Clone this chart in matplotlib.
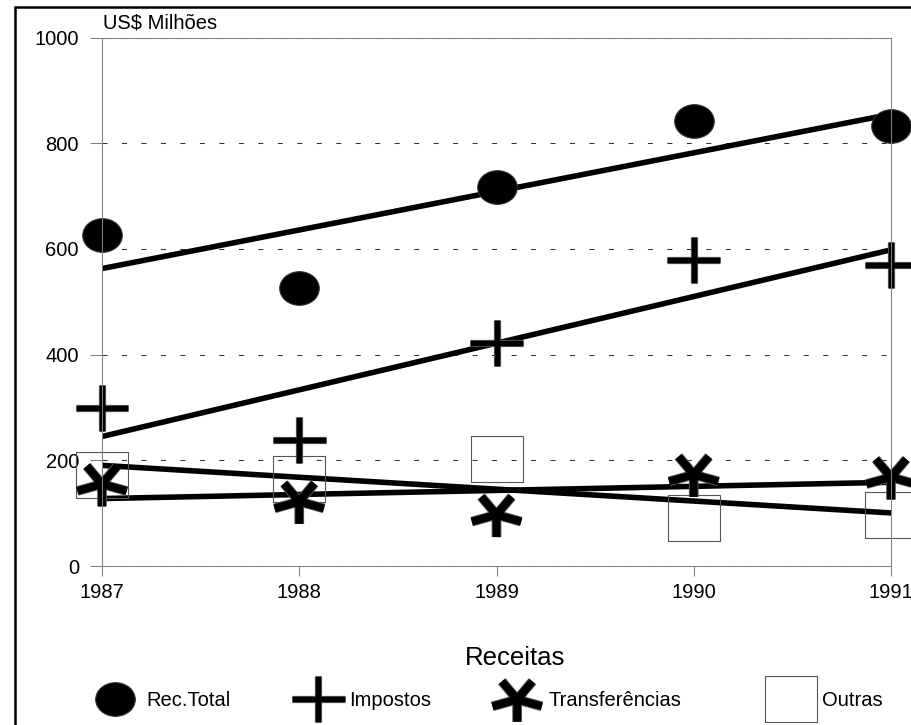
import matplotlib
matplotlib.use('Agg')
import matplotlib.pyplot as plt
import matplotlib.patheffects as pe
from matplotlib.path import Path
from matplotlib.transforms import Affine2D
from matplotlib.patches import Rectangle
import numpy as np

plt.rcParams['font.family'] = ['Liberation Sans', 'DejaVu Sans']

years = [1987, 1988, 1989, 1990, 1991]
rec_total = [626, 526, 717, 842, 833]
impostos = [299, 238, 422, 579, 570]
transferencias = [155, 122, 97, 173, 168]
outras = [172, 165, 203, 90, 97]
yticks = [0, 200, 400, 600, 800, 1000]

# marker shapes (Excel-like, slightly flattened)
ellipse = Path.unit_circle().transformed(Affine2D().scale(1, 0.85))
plus = Path([(-1, 0), (1, 0), (0, -0.87), (0, 0.87)],
            [Path.MOVETO, Path.LINETO, Path.MOVETO, Path.LINETO])
ast_verts, ast_codes = [], []
for a in [270, 342, 54, 126, 198]:
    r = np.deg2rad(a)
    ast_verts += [(0, 0), (np.cos(r), np.sin(r) * 0.86)]
    ast_codes += [Path.MOVETO, Path.LINETO]
asterisk = Path(ast_verts, ast_codes)
square = Path([(-1, -0.885), (1, -0.885), (1, 0.885), (-1, 0.885), (-1, -0.885)],
              [Path.MOVETO, Path.LINETO, Path.LINETO, Path.LINETO, Path.CLOSEPOLY])

W, H = 912, 725
fig = plt.figure(figsize=(W / 100, H / 100), dpi=100)
ax = fig.add_axes([102 / W, 1 - 566 / H, (891 - 102) / W, (566 - 37.5) / H])

# trend lines (linear fit of each series)
for vals in [rec_total, impostos, transferencias, outras]:
    coef = np.polyfit(years, vals, 1)
    ax.plot(years, np.polyval(coef, years), color='black', lw=4.0,
            solid_capstyle='round', zorder=2.0)

outline = lambda w: [pe.Stroke(linewidth=w, foreground='#555555'), pe.Normal()]

h_out, = ax.plot(years, outras, ls='none', marker=square, ms=37.4, mfc='none',
                 mec='#555555', mew=0.8, clip_on=False, zorder=2.1)
h_rec, = ax.plot(years, rec_total, ls='none', marker=ellipse, ms=28.5, mfc='black',
                 mec='#333333', mew=0.8, clip_on=False, zorder=2.2)
h_imp, = ax.plot(years, impostos, ls='none', marker=plus, ms=38, mfc='none',
                 mec='black', mew=3.8, clip_on=False, zorder=2.2,
                 path_effects=outline(5.2))
h_tra, = ax.plot(years, transferencias, ls='none', marker=asterisk, ms=35.6,
                 mfc='none', mec='black', mew=5.6, clip_on=False, zorder=2.2,
                 path_effects=outline(7.0))

ax.set_xlim(1987, 1991)
ax.set_ylim(0, 1000)
ax.set_xticks(years)
ax.set_yticks(yticks)
ax.tick_params(axis='y', direction='out', length=8.6, width=0.75, color='#808080',
               pad=8, labelsize=14.5)
ax.tick_params(axis='x', direction='out', length=7, width=0.75, color='#808080',
               pad=5, labelsize=14.5)
for s in ax.spines.values():
    s.set_color('#808080')
    s.set_linewidth(0.75)
ax.yaxis.grid(True, color='#333333', lw=0.75, linestyle=(0, (4.8, 13.9)))
ax.set_axisbelow(True)

fig.text(103 / W, 1 - 28 / H, 'US$ Milhões', fontsize=14.5, va='baseline', ha='left')

# legend
fig.text(515 / W, 1 - 658 / H, 'Receitas', fontsize=18.5, ha='center', va='center')
leg_handles = [h_rec, h_imp, h_tra, h_out]
leg_labels = ['Rec.Total', 'Impostos', 'Transferências', 'Outras']
leg_x = [115, 318, 517, 791]
for h, lab, cx in zip(leg_handles, leg_labels, leg_x):
    fig.legend([h], [lab], loc='center left', bbox_to_anchor=((cx - 20) / W, 1 - 701 / H),
               frameon=False, borderpad=0, borderaxespad=0, handlelength=2.0,
               handletextpad=0.55, fontsize=14.5)

# outer frame (only left/top visible in the crop)
fig.add_artist(Rectangle((15 / W, -0.1), 1.2, 1.1 - 7 / H, transform=fig.transFigure,
                         fill=False, lw=1.8, edgecolor='black'))

fig.savefig('out.png', dpi=100)
